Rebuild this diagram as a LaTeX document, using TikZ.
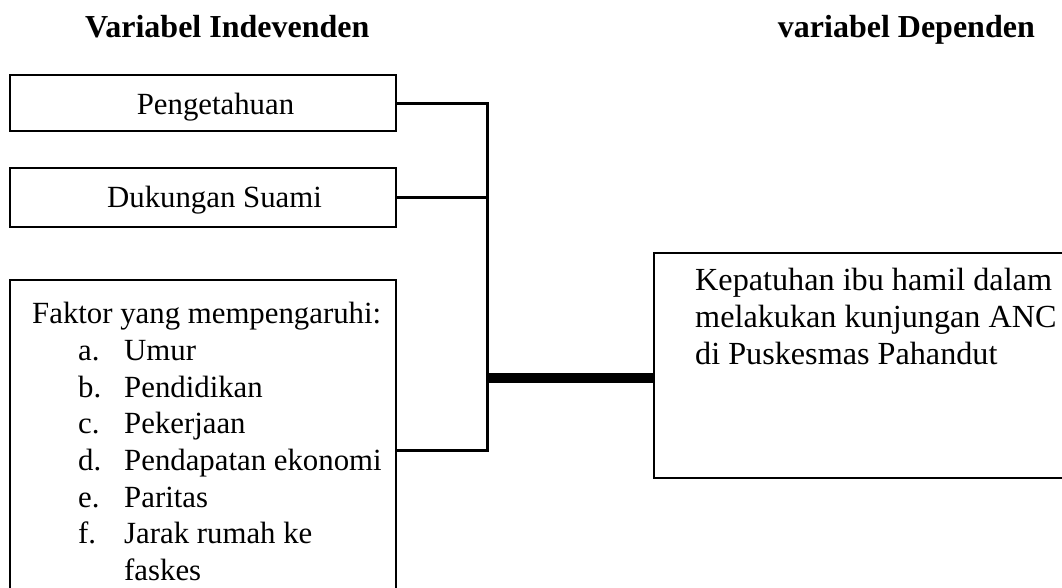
\documentclass[tikz,border=0pt]{standalone}
\usepackage{fontspec}
\setmainfont{Liberation Serif}
\begin{document}
\begin{tikzpicture}[x=1pt,y=-1pt,
  box/.style={draw,line width=2.6pt,rectangle,inner sep=0pt},
  conn/.style={line width=3pt},
  thickconn/.style={line width=10pt},
  txt/.style={inner sep=0pt,font=\fontsize{30.8}{36.7}\selectfont},
  rtxt/.style={inner sep=0pt,font=\fontsize{32.2}{36.7}\selectfont},
  ttl/.style={inner sep=0pt,font=\fontsize{32}{36.7}\selectfont\bfseries}]
\useasboundingbox (0,0) rectangle (1062,587);
\clip (0,0) rectangle (1062,587);
% boxes
\node[box,minimum width=386pt,minimum height=56pt] (b1) at (203,103) {};
\node[box,minimum width=386pt,minimum height=59pt] (b2) at (203,197.5) {};
\node[box,minimum width=386pt,minimum height=340pt] (b3) at (203,450) {};
\node[box,minimum width=440pt,minimum height=225pt] (dep) at (874,365.5) {};
% titles
\node[ttl,anchor=base west] (t1) at (85,37) {Variabel Indevenden};
\node[ttl,anchor=base east] (t2) at (1035,37) {variabel Dependen};
% texts
\node[txt,anchor=base] (l1) at (215.5,114) {Pengetahuan};
\node[txt,anchor=base] (l2) at (214.5,207) {Dukungan Suami};
\node[txt,anchor=base west] (f0) at (32,323) {Faktor yang mempengaruhi:};
\node[txt,anchor=base west] (fa) at (78,360) {a.};
\node[txt,anchor=base west] (fb) at (78,397) {b.};
\node[txt,anchor=base west] (fc) at (78,433) {c.};
\node[txt,anchor=base west] (fd) at (78,470) {d.};
\node[txt,anchor=base west] (fe) at (78,507) {e.};
\node[txt,anchor=base west] (ff) at (78,543) {f.};
\node[txt,anchor=base west] (ia) at (124,360) {Umur};
\node[txt,anchor=base west] (ib) at (124,397) {Pendidikan};
\node[txt,anchor=base west] (ic) at (124,433) {Pekerjaan};
\node[txt,anchor=base west] (id) at (124,470) {Pendapatan ekonomi};
\node[txt,anchor=base west] (ie) at (124,507) {Paritas};
\node[txt,anchor=base west] (if) at (124,543) {Jarak rumah ke};
\node[txt,anchor=base west] (ig) at (124,580) {faskes};
\node[rtxt,anchor=base west] (d1) at (695,290) {Kepatuhan ibu hamil dalam};
\node[rtxt,anchor=base west] (d2) at (695,327) {melakukan kunjungan ANC};
\node[rtxt,anchor=base west] (d3) at (695,364) {di Puskesmas Pahandut};
% connectors
\coordinate (vt) at (487,103);
\coordinate (vb) at (487,450);
\coordinate (jn) at (487,378);
\draw[conn] (b1.east) -- (vt) -- (vb) -- (b3.east |- vb);
\draw[conn] (b2.east) -- (b2.east -| vt);
\draw[thickconn] (jn) -- (dep.west |- jn);
\end{tikzpicture}
\end{document}
